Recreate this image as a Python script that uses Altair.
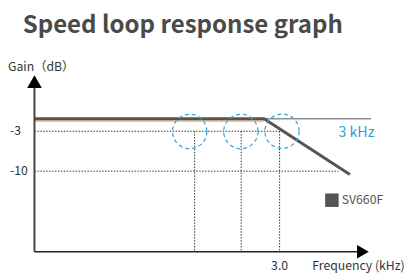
import altair as alt
import pandas as pd

# ---- data (kHz, dB) ----
resp_freq = [0.0, 2.81, 3.86]
resp_db = [-0.82, -0.82, -10.57]

orange_freq = [0.0, 2.81]
orange_db = [-1.2, -1.2]

ref_freq = [2.81, 4.12]
ref_db = [-0.82, -0.82]

hdot_db = [-3, -10]
hdot_end = [3.0, 3.72]

vdot_freq = [1.96, 2.53, 3.0]

circle_freq = [1.90, 2.526, 3.03]
circle_db = [-3.05, -3.05, -3.0]

y_ticks = [-3, -10]
x_tick = [3.0]
x_tick_label = ["3.0"]

axis_bottom_db = -24.16
axis_top_db = 4.73
x_axis_end = 3.95

XDOM = [-0.324, 4.596]
YDOM = [-28.46, 18.16]

W, H = 410, 271

xs = alt.Scale(domain=XDOM, nice=False, zero=False)
ys = alt.Scale(domain=YDOM, nice=False, zero=False)


def X(field="f"):
    return alt.X(f"{field}:Q", scale=xs, axis=None)


def Y(field="d"):
    return alt.Y(f"{field}:Q", scale=ys, axis=None)


# axes lines
yaxis_df = pd.DataFrame({"f": [0.0, 0.0], "d": [axis_bottom_db, axis_top_db]})
xaxis_df = pd.DataFrame({"f": [0.0, x_axis_end], "d": [axis_bottom_db, axis_bottom_db]})

yaxis = alt.Chart(yaxis_df).mark_line(color="#444", strokeWidth=2).encode(x=X(), y=Y())
xaxis = alt.Chart(xaxis_df).mark_line(color="#222", strokeWidth=1.5).encode(x=X(), y=Y())

yarrow = alt.Chart(pd.DataFrame({"f": [0.0], "d": [5.7]})).mark_point(
    shape="triangle-up", size=225, filled=True, color="#000", opacity=1
).encode(x=X(), y=Y())
xarrow = alt.Chart(pd.DataFrame({"f": [4.02], "d": [axis_bottom_db]})).mark_point(
    shape="triangle-right", size=190, filled=True, color="#000", opacity=1
).encode(x=X(), y=Y())

# dotted guide lines
hrows = []
for i, (d, e) in enumerate(zip(hdot_db, hdot_end)):
    hrows += [{"f": 0.0, "d": d, "g": f"h{i}"}, {"f": e, "d": d, "g": f"h{i}"}]
for i, f in enumerate(vdot_freq):
    hrows += [{"f": f, "d": -3, "g": f"v{i}"}, {"f": f, "d": axis_bottom_db, "g": f"v{i}"}]
dots = alt.Chart(pd.DataFrame(hrows)).mark_line(
    color="#333", strokeWidth=1, strokeDash=[1.5, 1.5]
).encode(x=X(), y=Y(), detail="g:N")

# reference thin line
ref = alt.Chart(pd.DataFrame({"f": ref_freq, "d": ref_db})).mark_line(
    color="#555", strokeWidth=1
).encode(x=X(), y=Y())

orange = alt.Chart(pd.DataFrame({"f": orange_freq, "d": orange_db})).mark_line(
    color="#d98a3a", strokeWidth=1.1
).encode(x=X(), y=Y())

resp = alt.Chart(pd.DataFrame({"f": resp_freq, "d": resp_db})).mark_line(
    color="#555", strokeWidth=3
).encode(x=X(), y=Y())

circles = alt.Chart(pd.DataFrame({"f": circle_freq, "d": circle_db})).mark_point(
    shape="circle", size=1225, filled=False, color="#3aa6dc", strokeWidth=1.3,
    strokeDash=[4, 3], opacity=1
).encode(x=X(), y=Y())

# tick labels
ylab = alt.Chart(pd.DataFrame({"f": [-0.3, -0.3], "d": y_ticks, "t": ["-3", "-10"]})).mark_text(
    align="left", baseline="middle", fontSize=12.5, font="Noto Sans CJK SC", color="#333"
).encode(x=X(), y=Y(), text="t:N")

xlab = alt.Chart(pd.DataFrame({"f": x_tick, "d": [-26.6], "t": x_tick_label})).mark_text(
    align="center", baseline="middle", fontSize=12.5, font="Noto Sans CJK SC", color="#333"
).encode(x=X(), y=Y(), text="t:N")

texts_df = pd.DataFrame({
    "t": ["Frequency (kHz)", "Gain（dB）", "3 kHz", "SV660F"],
    "f": [3.40, -0.324, 3.72, 3.76],
    "d": [-26.6, 8.3, -3.35, -15.1],
    "c": ["#333", "#333", "#2c9fd8", "#555"],
    "s": [12.5, 12.5, 14.5, 12.5],
})
texts = alt.Chart(texts_df).mark_text(
    align="left", baseline="middle", font="Noto Sans CJK SC"
).encode(
    x=X(), y=Y(), text="t:N",
    color=alt.Color("c:N", scale=None),
    size=alt.Size("s:Q", scale=None),
)

legend_sq = alt.Chart(pd.DataFrame({"f": [3.64], "d": [-15.1]})).mark_point(
    shape="square", size=190, filled=True, color="#555", opacity=1
).encode(x=X(), y=Y())

title = alt.Chart(pd.DataFrame({"t": ["Speed loop response graph"]})).mark_text(
    align="left", baseline="alphabetic", fontSize=24.5, fontWeight="bold",
    font="Noto Sans CJK SC", color="#4a4a4a"
).encode(x=alt.value(15), y=alt.value(23), text="t:N")

chart = alt.layer(
    dots, ref, orange, resp, circles, yaxis, xaxis, yarrow, xarrow,
    ylab, xlab, texts, legend_sq, title
).properties(
    width=W, height=H, padding=0, autosize=alt.AutoSizeParams(type="none")
).configure_view(stroke=None)

chart.save("out.html", embed_options={"renderer": "svg", "actions": False})
